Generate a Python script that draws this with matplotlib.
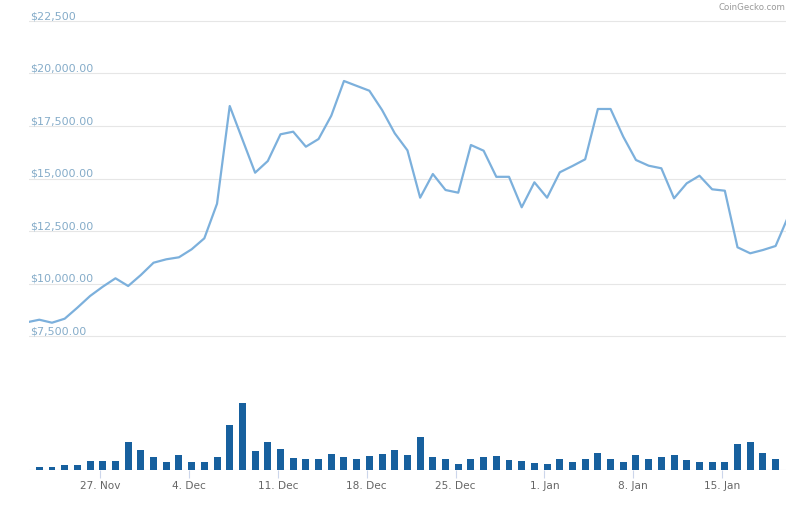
import matplotlib
matplotlib.use('Agg')
import matplotlib.pyplot as plt
import matplotlib.dates as mdates
import numpy as np
import pandas as pd

# daily BTC price (USD), 21 Nov 2017 .. 20 Jan 2018
price_dates = pd.date_range('2017-11-21 05:00', '2018-01-20 05:00', freq='D')
price = [8150, 8276, 8133, 8324, 8850, 9405, 9848, 10248, 9881, 10405,
         10990, 11152, 11248, 11629, 12152, 13800, 18452, 16860, 15276, 15833,
         17105, 17229, 16514, 16881, 17990, 19643, 19410, 19180, 18262, 17152,
         16340, 14086, 15214, 14452, 14324, 16595, 16324, 15080, 15080, 13629,
         14819, 14086, 15295, 15595, 15914, 18310, 18310, 16990, 15881, 15610,
         15486, 14057, 14771, 15133, 14486, 14419, 11724, 11438, 11595, 11786,
         13200]

# daily volume (billions USD), 22 Nov 2017 .. 19 Jan 2018
vol_dates = pd.date_range('2017-11-22 05:00', '2018-01-19 05:00', freq='D')
volume = [1.1, 1.1, 1.8, 1.8, 3.2, 3.2, 3.2, 10.1, 7.2, 4.7,
          2.9, 5.4, 2.9, 2.9, 4.7, 16.2, 24.2, 6.8, 10.1, 7.6,
          4.3, 4.0, 4.0, 5.8, 4.7, 4.0, 5.0, 5.8, 7.2, 5.4,
          11.9, 4.7, 4.0, 2.2, 4.0, 4.7, 5.0, 3.6, 3.2, 2.5,
          2.2, 4.0, 2.9, 4.0, 6.1, 4.0, 2.9, 5.4, 4.0, 4.7,
          5.4, 3.6, 2.9, 2.9, 2.9, 9.4, 10.1, 6.1, 4.0]

yticks = [7500, 10000, 12500, 15000, 17500, 20000, 22500]
ytick_labels = ['$7,500.00', '$10,000.00', '$12,500.00', '$15,000.00',
                '$17,500.00', '$20,000.00', '$22,500']
xticks = pd.to_datetime(['2017-11-27', '2017-12-04', '2017-12-11', '2017-12-18',
                         '2017-12-25', '2018-01-01', '2018-01-08', '2018-01-15'])

W, H = 807, 508
fig = plt.figure(figsize=(W / 100, H / 100), dpi=100)
fig.patch.set_facecolor('white')

xlo = pd.Timestamp('2017-11-21 09:32')
xhi = pd.Timestamp('2018-01-20 00:40')

# price panel
ax = fig.add_axes([29 / W, 1 - 340 / H, 757 / W, 323 / H])
ax.set_xlim(xlo, xhi)
ax.set_ylim(7310, 22690)
for s in ax.spines.values():
    s.set_visible(False)
ax.set_xticks([])
ax.set_yticks([])
for v, lab in zip(yticks, ytick_labels):
    ax.axhline(v, color='#e6e6e6', lw=0.8, zorder=1)
    ax.annotate(lab, xy=(0, v), xycoords=ax.get_yaxis_transform(),
                xytext=(1, 1.2), textcoords='offset points',
                ha='left', va='baseline', fontsize=8, color='#85acc9')
ax.plot(price_dates, price, color='#7cb0dc', lw=1.6, zorder=3,
        solid_joinstyle='round')

fig.text(785 / W, 1 - 8 / H, 'CoinGecko.com', ha='right', va='center',
         fontsize=6.2, color='#999999')

# volume panel
vx = fig.add_axes([29 / W, 1 - 470 / H, 757 / W, 90 / H])
vx.set_xlim(xlo, xhi)
vx.set_ylim(0, max(volume) * 90 / 67.3)
vx.bar(vol_dates, volume, width=0.55, color='#17609e', zorder=2)
for s in vx.spines.values():
    s.set_visible(False)
vx.axhline(0, color='#ccd6eb', lw=0.8, zorder=1)
vx.set_yticks([])
vx.set_xticks(xticks)
vx.xaxis.set_major_formatter(mdates.DateFormatter('%-d. %b'))
vx.tick_params(axis='x', length=6, width=0.8, color='#ccd6eb',
               labelcolor='#666666', labelsize=7.6, pad=2)

fig.savefig('out.png', dpi=100, facecolor='white')
